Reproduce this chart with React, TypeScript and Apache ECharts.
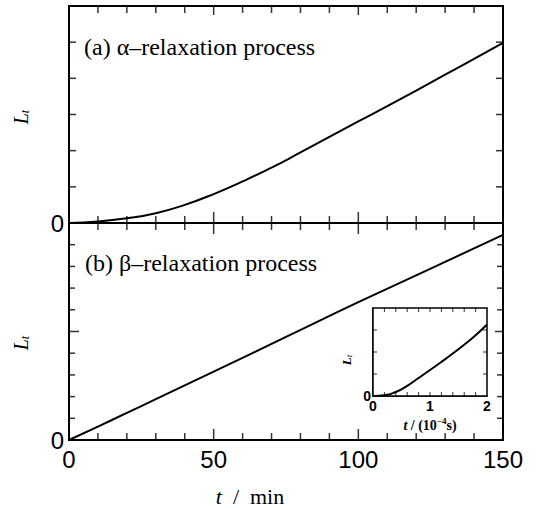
import React, { useEffect, useRef } from "react";
import * as echarts from "echarts";

// Panel (a): alpha-relaxation process (t in min, L_t arbitrary units)
const tA = [0, 10, 20, 30, 40, 50, 60, 70, 80, 90, 100, 110, 120, 130, 140, 150];
const lA = [0, 0.04, 0.13, 0.27, 0.5, 0.8, 1.15, 1.53, 1.95, 2.38, 2.81, 3.23, 3.66, 4.1, 4.54, 4.98];
// Panel (b): beta-relaxation process
const tB = [0, 10, 20, 30, 50, 75, 100, 125, 150];
const lB = [0, 0.62, 1.25, 1.88, 3.15, 4.75, 6.35, 7.9, 9.45];
// Inset: t in 1e-4 s
const tI = [0, 0.2, 0.4, 0.6, 0.8, 1.0, 1.2, 1.4, 1.6, 1.8, 2.0];
const lI = [0, 0.03, 0.18, 0.46, 0.82, 1.18, 1.55, 1.93, 2.33, 2.76, 3.25];

// tick positions / labels
const xTickLabels = [0, 50, 100, 150];
const xMinorTicks = [10, 20, 30, 40, 60, 70, 80, 90, 110, 120, 130, 140];
const xMajorTicks = [50, 100];
const yTicksA = [1, 2, 3, 4, 5];
const yTicksB = [1, 2, 3, 4, 6, 7, 8, 9];
const yMajorTicksB = [5];
const insetXLabels = [0, 1, 2];
const insetXTicks = [0.2, 0.4, 0.6, 0.8, 1.0, 1.2, 1.4, 1.6, 1.8];
const insetYTicks = [1, 2, 3];

const SERIF = "'Liberation Serif', 'DejaVu Serif', serif";
const SANS = "'Liberation Sans', Arial, sans-serif";

const isIn = (v: number, list: number[]) => list.some((k) => Math.abs(v - k) < 1e-6);

export default function App() {
  const ref = useRef<HTMLDivElement>(null);
  useEffect(() => {
    const chart = echarts.init(ref.current!, null, { renderer: "svg" });
    const black = "#000";

    const ax = (grid: number, min: number, max: number, interval: number, lineW: number, label: any) => ({
      type: "value",
      gridIndex: grid,
      min,
      max,
      interval,
      axisLine: { show: true, onZero: false, lineStyle: { color: black, width: lineW } },
      axisTick: { show: false },
      axisLabel: label || { show: false },
      splitLine: { show: false },
    });

    const mainXLabel = {
      show: true,
      color: black,
      fontFamily: SANS,
      fontSize: 24,
      margin: 7,
      formatter: (v: number) => (isIn(v, xTickLabels) ? String(Math.round(v)) : ""),
    };
    const mainYLabel = {
      show: true,
      color: black,
      fontFamily: SANS,
      fontSize: 24,
      margin: 5,
      formatter: (v: number) => (Math.abs(v) < 1e-6 ? "0" : ""),
    };
    const insetXLabel = {
      show: true,
      color: black,
      fontFamily: SANS,
      fontWeight: "bold",
      fontSize: 14,
      margin: 3,
      formatter: (v: number) => (isIn(v, insetXLabels) ? String(Math.round(v)) : ""),
    };
    const insetYLabel = {
      show: true,
      color: black,
      fontFamily: SANS,
      fontWeight: "bold",
      fontSize: 14,
      margin: 2,
      formatter: (v: number) => (Math.abs(v) < 1e-6 ? "0" : ""),
    };

    const seriesLine = {
      type: "line",
      showSymbol: false,
      smooth: true,
      silent: true,
      lineStyle: { color: black, width: 2 },
    };

    // vertical tick marks placed through the axes' scales (dir: 1 down, -1 up)
    const vTicks = (gi: number, xs: number[], yv: number, w: number, len: number, dir: number) => ({
      type: "scatter",
      xAxisIndex: gi,
      yAxisIndex: gi,
      silent: true,
      clip: false,
      symbol: "rect",
      symbolSize: [w, len],
      symbolOffset: [0, (dir * len) / 2],
      itemStyle: { color: black },
      z: 6,
      data: xs.map((x) => [x, yv]),
    });
    // horizontal tick marks (dir: 1 right, -1 left)
    const hTicks = (gi: number, ys: number[], xv: number, w: number, len: number, dir: number) => ({
      type: "scatter",
      xAxisIndex: gi,
      yAxisIndex: gi,
      silent: true,
      clip: false,
      symbol: "rect",
      symbolSize: [len, w],
      symbolOffset: [(dir * len) / 2, 0],
      itemStyle: { color: black },
      z: 6,
      data: ys.map((y) => [xv, y]),
    });

    const ltText = (x: number, y: number, big: number, small: number, bold: boolean) => ({
      type: "text",
      x,
      y,
      rotation: Math.PI / 2,
      style: {
        text: "{l|L}{s|t}",
        fill: black,
        align: "center",
        verticalAlign: "middle",
        rich: {
          l: { font: `italic ${bold ? "bold " : ""}${big}px ${SERIF}`, fill: black },
          s: { font: `italic ${small}px ${SERIF}`, fill: black, padding: [Math.round(big * 0.4), 0, 0, 0] },
        },
      },
    });

    chart.setOption({
      animation: false,
      backgroundColor: "#fff",
      grid: [
        { left: 69, top: 6, width: 434, height: 217, show: true, borderColor: black, borderWidth: 2 },
        { left: 69, top: 223, width: 434, height: 217, show: true, borderColor: black, borderWidth: 2 },
        {
          left: 373,
          top: 308,
          width: 114,
          height: 88,
          show: true,
          backgroundColor: "#fff",
          borderColor: black,
          borderWidth: 1.5,
          z: 3,
        },
      ],
      xAxis: [
        ax(0, 0, 150, 10, 2, null),
        ax(1, 0, 150, 10, 2, mainXLabel),
        ax(2, 0, 2, 0.2, 1.5, insetXLabel),
      ],
      yAxis: [
        ax(0, 0, 6, 1, 2, mainYLabel),
        ax(1, 0, 10, 1, 2, mainYLabel),
        ax(2, 0, 4, 1, 1.5, insetYLabel),
      ],
      series: [
        { ...seriesLine, xAxisIndex: 0, yAxisIndex: 0, data: tA.map((t, i) => [t, lA[i]]) },
        { ...seriesLine, xAxisIndex: 1, yAxisIndex: 1, data: tB.map((t, i) => [t, lB[i]]) },
        { ...seriesLine, xAxisIndex: 2, yAxisIndex: 2, z: 4, data: tI.map((t, i) => [t, lI[i]]) },
        // panel (a): top edge ticks (down), middle line ticks (up)
        vTicks(0, xMinorTicks, 6, 1.5, 7, 1),
        vTicks(0, xMajorTicks, 6, 1.5, 9, 1),
        vTicks(0, xMinorTicks, 0, 1.5, 7, -1),
        vTicks(0, xMajorTicks, 0, 1.5, 11, -1),
        // panel (a): left and right y ticks
        hTicks(0, yTicksA, 0, 1.5, 7, 1),
        hTicks(0, yTicksA, 150, 1.5, 7, -1),
        // panel (b): middle line ticks (down), bottom edge ticks (up)
        vTicks(1, xMinorTicks, 10, 1.5, 7, 1),
        vTicks(1, xMajorTicks, 10, 1.5, 11, 1),
        vTicks(1, xMinorTicks, 0, 1.5, 7, -1),
        vTicks(1, xMajorTicks, 0, 1.5, 11, -1),
        // panel (b): left and right y ticks
        hTicks(1, yTicksB, 0, 1.5, 6, 1),
        hTicks(1, yMajorTicksB, 0, 1.5, 10, 1),
        hTicks(1, yTicksB, 150, 1.5, 6, -1),
        hTicks(1, yMajorTicksB, 150, 1.5, 8, -1),
        // inset ticks
        { ...vTicks(2, insetXTicks, 0, 1, 4, -1), z: 7 },
        { ...vTicks(2, insetXTicks, 4, 1, 4, 1), z: 7 },
        { ...hTicks(2, insetYTicks, 0, 1, 4, 1), z: 7 },
        { ...hTicks(2, insetYTicks, 2, 1, 4, -1), z: 7 },
      ],
      graphic: [
        {
          type: "text",
          x: 84,
          y: 47,
          style: {
            text: "(a) α–relaxation process",
            font: `24px ${SERIF}`,
            fill: black,
            verticalAlign: "middle",
          },
        },
        {
          type: "text",
          x: 85,
          y: 263,
          style: {
            text: "(b) β–relaxation process",
            font: `24px ${SERIF}`,
            fill: black,
            verticalAlign: "middle",
          },
        },
        ltText(21, 117, 20, 12, false),
        ltText(21, 343, 20, 12, false),
        ltText(346, 360, 13, 9, true),
        {
          type: "text",
          x: 430,
          y: 425,
          style: {
            text: "{i|t}{n| / (10}{sup|−4}{n|s)}",
            fill: black,
            align: "center",
            verticalAlign: "middle",
            rich: {
              i: { font: `italic bold 14px ${SERIF}`, fill: black },
              n: { font: `bold 14px ${SERIF}`, fill: black },
              sup: { font: `bold 9px ${SERIF}`, fill: black, padding: [0, 0, 9, 0] },
            },
          },
        },
        {
          type: "text",
          x: 250,
          y: 496,
          style: {
            text: "{i|t}{n|  /  min}",
            fill: black,
            align: "center",
            verticalAlign: "middle",
            rich: {
              i: { font: `italic 22px ${SERIF}`, fill: black },
              n: { font: `22px ${SERIF}`, fill: black },
            },
          },
        },
      ],
    });
    return () => chart.dispose();
  }, []);
  return <div ref={ref} style={{ position: "absolute", left: 0, top: 0, width: 539, height: 510 }} />;
}
